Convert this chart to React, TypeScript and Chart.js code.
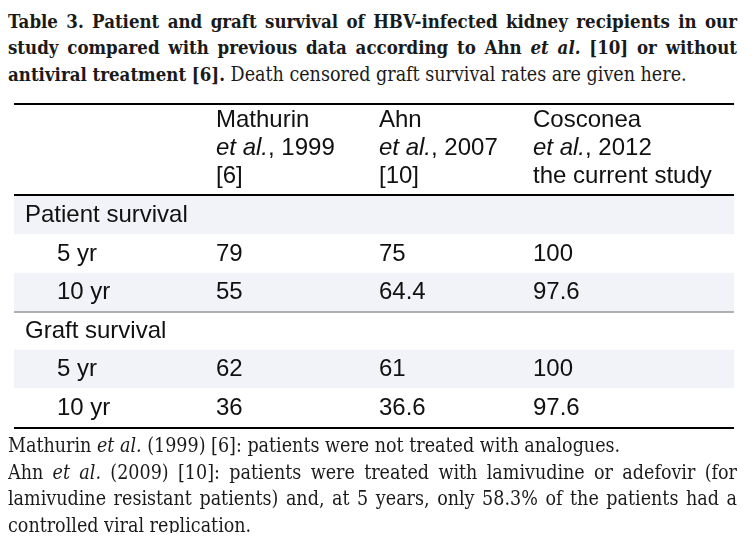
import React, { useEffect, useRef } from "react";
import { Chart, registerables } from "chart.js";

Chart.register(...registerables);

// ---------- data ----------
const rowLabels = ["Patient survival", "5 yr", "10 yr", "Graft survival", "5 yr", "10 yr"];
const rowIsGroup = [true, false, false, true, false, false];
const mathurin: (number | null)[] = [null, 79, 55, null, 62, 36];
const ahn: (number | null)[] = [null, 75, 64.4, null, 61, 36.6];
const cosconea: (number | null)[] = [null, 100, 97.6, null, 100, 97.6];
const studyNames = ["Mathurin", "Ahn", "Cosconea"];
const studyYears = [", 1999", ", 2007", ", 2012"];
const studyRefs = ["[6]", "[10]", "the current study"];

// ---------- style ----------
const BAND = "#f2f3f8";
const TEXT = "#111111";
const TABLE_FONT = '"Liberation Sans", Arial, sans-serif';
const SERIF = '"DejaVu Serif Condensed", "DejaVu Serif", serif';
const LABEL_X = 11;
const SUB_X = 43;
const COL_X = [202, 365, 519];
const HEADER_BASE = [-69, -41, -13];

const tablePlugin = {
  id: "tableText",
  afterDraw(chart: any) {
    const { ctx, chartArea } = chart;
    const yScale = chart.scales.y;
    const { left, right, top, bottom } = chartArea;
    const w = right - left;
    ctx.save();
    // rules
    ctx.fillStyle = "#000";
    ctx.fillRect(left, top - 93, w, 2);
    ctx.fillRect(left, top - 2, w, 2);
    ctx.fillRect(left, bottom, w, 2);
    const sepY = (yScale.getPixelForValue(2) + yScale.getPixelForValue(3)) / 2;
    ctx.fillStyle = "#b0b0b2";
    ctx.fillRect(left, Math.round(sepY) - 1, w, 2);

    ctx.fillStyle = TEXT;
    ctx.textBaseline = "alphabetic";
    ctx.textAlign = "left";
    // header
    const series = [mathurin, ahn, cosconea];
    studyNames.forEach((name, c) => {
      const x = left + COL_X[c];
      ctx.font = `24px ${TABLE_FONT}`;
      ctx.fillText(name, x, top + HEADER_BASE[0]);
      ctx.font = `italic 24px ${TABLE_FONT}`;
      ctx.fillText("et al.", x, top + HEADER_BASE[1]);
      const wi = ctx.measureText("et al.").width;
      ctx.font = `24px ${TABLE_FONT}`;
      ctx.fillText(studyYears[c], x + wi, top + HEADER_BASE[1]);
      ctx.fillText(studyRefs[c], x, top + HEADER_BASE[2]);
    });
    // body
    ctx.font = `24px ${TABLE_FONT}`;
    rowLabels.forEach((lab, i) => {
      const y = yScale.getPixelForValue(i) + 7;
      ctx.fillText(lab, left + (rowIsGroup[i] ? LABEL_X : SUB_X), y);
      series.forEach((s, c) => {
        const v = s[i];
        if (v !== null && v !== undefined) ctx.fillText(String(v), left + COL_X[c], y);
      });
    });
    ctx.restore();
  },
};

const lineStyle = (justify: boolean, h: string): React.CSSProperties => ({
  width: 729,
  textAlign: justify ? "justify" : "left",
  textAlignLast: justify ? "justify" : "left",
  height: h,
  overflow: "visible",
});

export default function App() {
  const ref = useRef<HTMLCanvasElement>(null);
  useEffect(() => {
    const canvas = ref.current!;
    const chart = new Chart(canvas, {
      type: "bar",
      data: {
        labels: rowLabels,
        datasets: [
          {
            data: rowLabels.map(() => [0, 1]) as any,
            backgroundColor: rowLabels.map((_, i) => (i % 2 === 0 ? BAND : "#ffffff")),
            borderWidth: 0,
            barPercentage: 1,
            categoryPercentage: 1,
          },
        ],
      },
      options: {
        indexAxis: "y",
        animation: false,
        responsive: false,
        devicePixelRatio: 1,
        events: [],
        layout: { padding: { left: 6, right: 14, top: 100, bottom: 9 } },
        plugins: { legend: { display: false }, tooltip: { enabled: false } },
        scales: {
          x: { type: "linear", min: 0, max: 1, display: false },
          y: { type: "category", display: false, offset: true },
        },
      },
      plugins: [tablePlugin],
    });
    return () => chart.destroy();
  }, []);

  const boldSize = "18.5px";
  const tH = "26.3px";
  const fH = "26.6px";
  return (
    <div style={{ position: "relative", width: 740, height: 525, color: "#1a1a1a" }}>
      <div style={{ position: "absolute", left: 0, top: 1, fontFamily: SERIF, fontSize: "19.5px", lineHeight: tH }}>
        <div style={lineStyle(true, tH)}>
          <b style={{ fontSize: boldSize }}>Table 3. Patient and graft survival of HBV-infected kidney recipients in our</b>
        </div>
        <div style={lineStyle(true, tH)}>
          <b style={{ fontSize: boldSize }}>
            study compared with previous data according to Ahn <i>et al.</i> [10] or without
          </b>
        </div>
        <div style={lineStyle(false, tH)}>
          <b style={{ fontSize: boldSize }}>antiviral treatment [6].</b> Death censored graft survival rates are given here.
        </div>
      </div>
      <canvas ref={ref} width={740} height={340} style={{ position: "absolute", left: 0, top: 88, width: 740, height: 340 }} />
      <div style={{ position: "absolute", left: 0, top: 425, fontFamily: SERIF, fontSize: "19.5px", lineHeight: fH }}>
        <div style={lineStyle(false, fH)}>
          Mathurin <i>et al.</i> (1999) [6]: patients were not treated with analogues.
        </div>
        <div style={lineStyle(true, fH)}>
          Ahn <i>et al.</i> (2009) [10]: patients were treated with lamivudine or adefovir (for
        </div>
        <div style={lineStyle(true, fH)}>
          lamivudine resistant patients) and, at 5 years, only 58.3% of the patients had a
        </div>
        <div style={lineStyle(false, fH)}>controlled viral replication.</div>
      </div>
    </div>
  );
}
